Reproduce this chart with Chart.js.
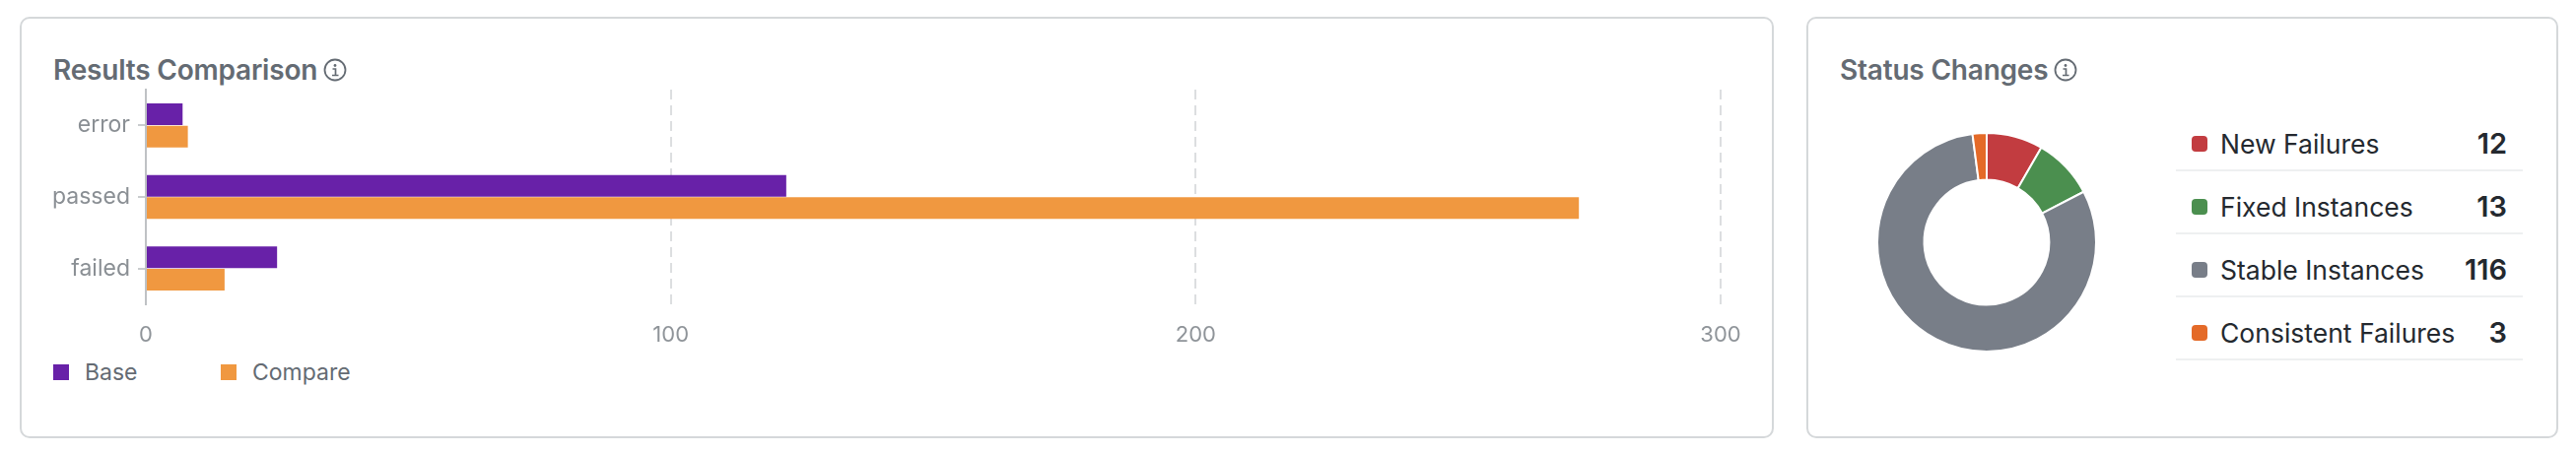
<!DOCTYPE html>
<html>
<head>
<meta charset="utf-8">
<title>Results Comparison</title>
<script src="https://cdn.jsdelivr.net/npm/chart.js@4"></script>
<style>
  html, body { margin: 0; padding: 0; background: #fff; }
  body { width: 2614px; height: 460px; position: relative; overflow: hidden; font-family: Inter, "Noto Sans", sans-serif; }
  .card { position: absolute; top: 17px; height: 424px; box-sizing: content-box; border: 2px solid #d5d8da; border-radius: 10px; background: #fff; }
  #resultsCard { left: 20px; width: 1776px; }
  #statusCard { left: 1833px; width: 759px; }
  .title { position: absolute; top: 56px; height: 30px; line-height: 30px; font-size: 28px; font-weight: 600; color: #646b73; white-space: nowrap; display: flex; align-items: center; gap: 6px; letter-spacing: -0.2px; }
  .title svg { display: block; }
  canvas { position: absolute; }
  #resultsChart { left: 40px; top: 85px; }
  #statusChart { left: 1896px; top: 126px; }
  .bar-legend { position: absolute; top: 364px; left: 54px; height: 28px; display: flex; font-size: 23px; color: #646b73; }
  .bar-legend span { display: flex; align-items: center; }
  .bar-legend i { display: block; width: 16px; height: 16px; margin-right: 16px; }
  .status-list { position: absolute; left: 2208px; top: 110px; width: 352px; }
  .status-row { box-sizing: border-box; height: 64px; padding: 9px 16px 0; border-bottom: 2px solid #eef0f1; display: flex; align-items: center; font-size: 26.5px; color: #24292f; }
  .status-row i { display: block; width: 16px; height: 16px; border-radius: 4px; margin-right: 13px; }
  .status-row b { margin-left: auto; font-size: 29px; font-weight: 600; }
</style>
</head>
<body>
<div class="card" id="resultsCard"></div>
<div class="card" id="statusCard"></div>

<div class="title" style="left:54px">Results Comparison
  <svg width="24" height="24" viewBox="0 0 24 24"><circle cx="12" cy="12" r="10.5" fill="none" stroke="#646b73" stroke-width="1.8"/><circle cx="12" cy="7.5" r="1.4" fill="#646b73"/><path d="M9.5 11h3v6.5M9 17.5h6.5" fill="none" stroke="#646b73" stroke-width="1.7"/></svg>
</div>
<div class="title" style="left:1867px">Status Changes
  <svg width="24" height="24" viewBox="0 0 24 24"><circle cx="12" cy="12" r="10.5" fill="none" stroke="#646b73" stroke-width="1.8"/><circle cx="12" cy="7.5" r="1.4" fill="#646b73"/><path d="M9.5 11h3v6.5M9 17.5h6.5" fill="none" stroke="#646b73" stroke-width="1.7"/></svg>
</div>

<canvas id="resultsChart" width="1750" height="270"></canvas>
<div class="bar-legend" id="barLegend"></div>
<canvas id="statusChart" width="240" height="240"></canvas>
<div class="status-list" id="statusList"></div>

<script>
// ---------- Data ----------
const RESULT_LABELS = ["error", "passed", "failed"];
const BASE_VALUES = [7, 122, 25];
const COMPARE_VALUES = [8, 273, 15];
const AXIS_TICKS = [0, 100, 200, 300];
const SERIES_NAMES = ["Base", "Compare"];

const STATUS_LABELS = ["New Failures", "Fixed Instances", "Stable Instances", "Consistent Failures"];
const STATUS_VALUES = [12, 13, 116, 3];

// ---------- Colors ----------
const SERIES_COLORS = ["#6821a8", "#f09840"];
const STATUS_COLORS = ["#c23c40", "#4b8f4f", "#787e88", "#e46a28"];
const FONT = "Inter, 'Noto Sans', sans-serif";

// ---------- Bar chart ----------
new Chart(document.getElementById("resultsChart"), {
  type: "bar",
  data: {
    labels: RESULT_LABELS,
    datasets: [
      { label: SERIES_NAMES[0], data: BASE_VALUES, backgroundColor: SERIES_COLORS[0] },
      { label: SERIES_NAMES[1], data: COMPARE_VALUES, backgroundColor: SERIES_COLORS[1] }
    ]
  },
  options: {
    indexAxis: "y",
    responsive: false,
    animation: false,
    datasets: { bar: { categoryPercentage: 0.625, barPercentage: 0.97 } },
    layout: { padding: { top: 6, right: 44 } },
    plugins: { legend: { display: false }, tooltip: { enabled: false } },
    scales: {
      x: {
        min: 0,
        max: 300,
        afterBuildTicks: axis => { axis.ticks = AXIS_TICKS.map(value => ({ value })); },
        afterFit: axis => { axis.height = 46; },
        border: { display: false, dash: [10, 6] },
        grid: {
          color: ctx => (ctx.tick.value === 0 ? "rgba(0,0,0,0)" : "#dcdee0"),
          lineWidth: 2,
          drawTicks: false
        },
        ticks: { color: "#8f9499", font: { family: FONT, size: 22 }, padding: 18, maxRotation: 0 }
      },
      y: {
        afterFit: axis => {
          axis.width = 108;
          axis.paddingTop = 0;
          axis.paddingBottom = 0;
        },
        border: { display: true, color: "#bfc2c5", width: 2 },
        grid: { offset: false, drawOnChartArea: false, drawTicks: true, tickLength: 8, color: "#c9ccce", lineWidth: 2 },
        ticks: { color: "#8a8f94", font: { family: FONT, size: 23 }, padding: 8 }
      }
    }
  }
});

document.getElementById("barLegend").innerHTML = SERIES_NAMES.map((name, i) =>
  `<span style="width:${i === 0 ? 170 : 140}px"><i style="background:${SERIES_COLORS[i]}"></i>${name}</span>`
).join("");

// ---------- Doughnut ----------
new Chart(document.getElementById("statusChart"), {
  type: "doughnut",
  data: {
    labels: STATUS_LABELS,
    datasets: [{ data: STATUS_VALUES, backgroundColor: STATUS_COLORS, borderColor: "#ffffff", borderWidth: 2 }]
  },
  options: {
    responsive: false,
    animation: false,
    radius: 111,
    cutout: 68,
    plugins: { legend: { display: false }, tooltip: { enabled: false } }
  }
});

document.getElementById("statusList").innerHTML = STATUS_LABELS.map((label, i) =>
  `<div class="status-row"><i style="background:${STATUS_COLORS[i]}"></i>${label}<b>${STATUS_VALUES[i]}</b></div>`
).join("");
</script>
</body>
</html>
